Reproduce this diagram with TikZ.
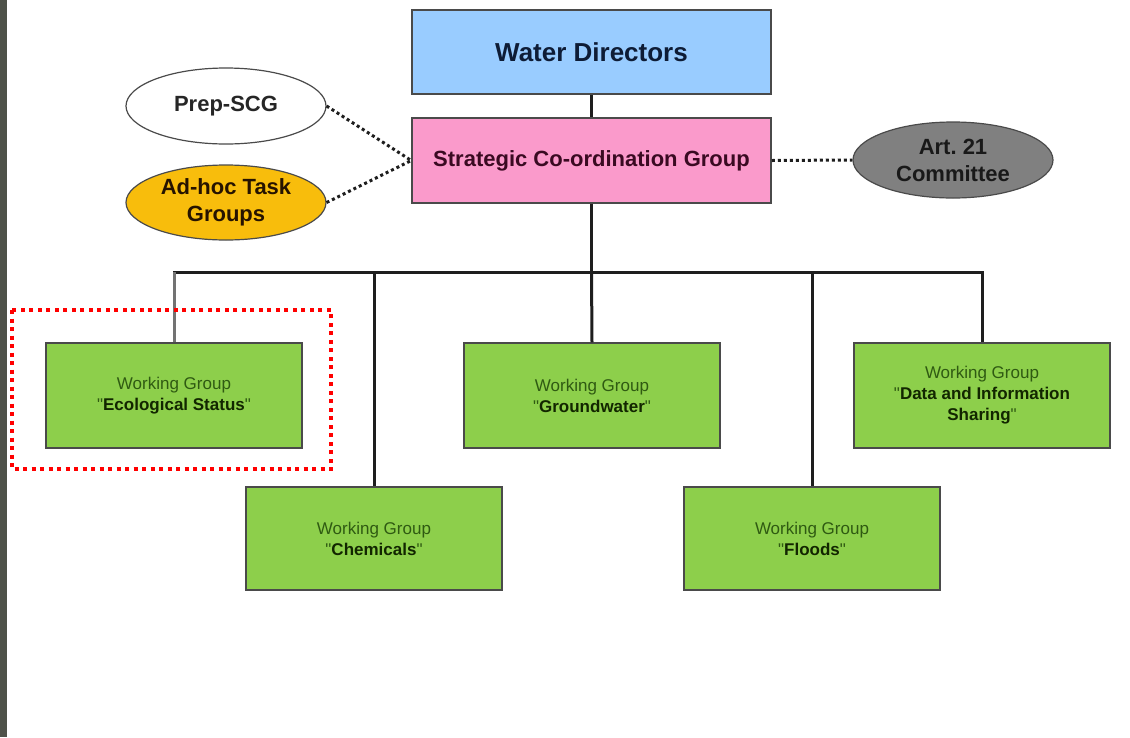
\documentclass[tikz,border=0pt]{standalone}
\usepackage{fontspec}
\setmainfont{Liberation Sans}
\usetikzlibrary{shapes.geometric}
\definecolor{stripgray}{HTML}{4E5249}
\definecolor{wdblue}{HTML}{99CCFF}
\definecolor{scgpink}{HTML}{FA9ACB}
\definecolor{adhocyel}{HTML}{F8BD0C}
\definecolor{artgray}{HTML}{808080}
\definecolor{wggreen}{HTML}{8DCF4B}
\definecolor{boxborder}{HTML}{4A4A4A}
\definecolor{wgtext}{HTML}{2F5A12}
\definecolor{wgbold}{HTML}{122600}
\definecolor{wdtext}{HTML}{0E1C36}
\definecolor{scgtext}{HTML}{3A0A22}
\definecolor{linecol}{HTML}{1E1E1E}
\definecolor{hlred}{HTML}{FF0000}
\newcommand{\qq}{\textquotedbl}
\frenchspacing
\begin{document}
\begin{tikzpicture}[x=1pt,y=-1pt,
  topbox/.style={draw=boxborder, line width=1.5pt, rectangle, inner sep=0pt, minimum width=359pt},
  wgbox/.style={draw=boxborder, line width=1.5pt, rectangle, fill=wggreen, inner sep=0pt,
     minimum width=256pt, align=center, text=wgtext, font=\fontsize{17}{21}\selectfont},
  oval/.style={draw=boxborder, line width=1.2pt, ellipse, inner sep=0pt, minimum width=200pt,
     minimum height=76pt, align=center, font=\bfseries\fontsize{22}{27}\selectfont},
  conn/.style={draw=linecol, line width=3pt},
  dotconn/.style={draw=linecol, line width=3pt, dash pattern=on 3pt off 3pt},
  hlbox/.style={draw=hlred, line width=4pt, dash pattern=on 4pt off 4.5pt}]
\fill[white] (0,0) rectangle (1130,737);
\useasboundingbox (0,0) rectangle (1130,737);
\fill[stripgray] (0,0) rectangle (7,737);

% top boxes
\node[topbox, fill=wdblue, minimum height=84pt, text=wdtext,
  font=\bfseries\fontsize{26}{30}\selectfont] (wd) at (591.5,52) {Water Directors};
\node[topbox, fill=scgpink, minimum height=85pt, text=scgtext,
  font=\bfseries\fontsize{22}{26}\selectfont] (scg) at (591.5,160.5) {Strategic Co-ordination Group};

% ellipses
\node[oval, fill=white, text=black!85] (prep) at (226,106) {Prep-SCG};
\node[oval, fill=adhocyel, text=black!85!orange, minimum height=75pt] (adhoc) at (226,202.5) {Ad-hoc Task\\Groups};
\node[oval, fill=artgray, text=black!90] (art) at (953,160) {Art. 21\\Committee};

% working groups
\node[wgbox, minimum height=105pt] (eco) at (174,395.5) {Working Group\\\qq{\bfseries\color{wgbold}Ecological Status}\qq};
\node[wgbox, minimum height=105pt] (gw) at (592,395.5) {Working Group\\\qq{\bfseries\color{wgbold}Groundwater}\qq};
\node[wgbox, minimum height=105pt] (data) at (982,395.5) {Working Group\\\qq{\bfseries\color{wgbold}Data and Information}\\{\bfseries\color{wgbold}Sharing}\qq};
\node[wgbox, minimum height=103pt] (chem) at (374,538.5) {Working Group\\\qq{\bfseries\color{wgbold}Chemicals}\qq};
\node[wgbox, minimum height=103pt] (floods) at (812,538.5) {Working Group\\\qq{\bfseries\color{wgbold}Floods}\qq};

% connectors
\coordinate (bus) at (591.5,272);
\coordinate (busL) at (eco.north |- bus);
\coordinate (busR) at (data.north |- bus);
\draw[conn] (wd.south) -- (scg.north);
\draw[conn] (scg.south) -- (bus);
\draw[conn, line cap=rect] (busL) -- (busR);
\draw[conn, draw=black!55] (busL) -- (eco.north);
\draw[conn] (chem.north |- bus) -- (chem.north);
\draw[conn] (bus) -- (gw.north);
\draw[conn] (floods.north |- bus) -- (floods.north);
\draw[conn] (busR) -- (data.north);
\draw[dotconn] (prep.east) -- (scg.west);
\draw[dotconn] (adhoc.east) -- (scg.west);
\draw[dotconn] (scg.east) -- (art.west);

% highlight
\draw[hlbox] (12,310) rectangle (331,469);
\end{tikzpicture}
\end{document}
